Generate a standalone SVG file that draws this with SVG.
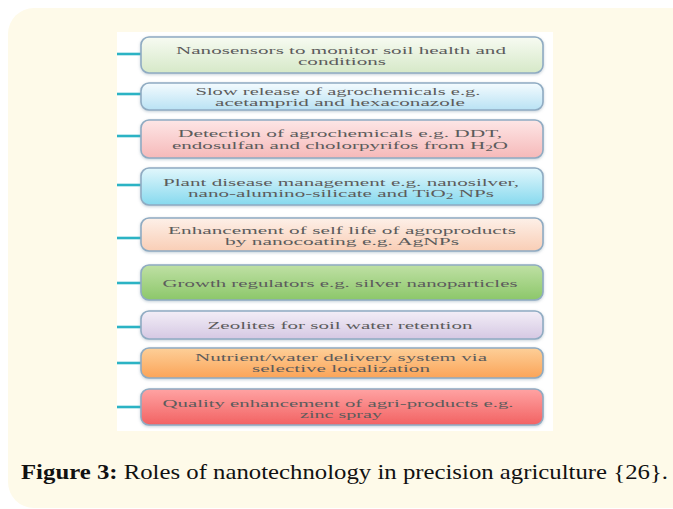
<svg xmlns="http://www.w3.org/2000/svg" width="673" height="509" viewBox="0 0 673 509">
  <style>
    .box { stroke: #8fabc2; stroke-width: 1.6; }
    .lbl { font-family: "Liberation Serif", "Times New Roman", serif; font-size: 11px; fill: #5c5c5c; text-anchor: middle; }
    .sm { font-size: 10px; }
    .link { stroke: #2bb3c4; stroke-width: 2.6; fill: none; }
    .cap { font-family: "Liberation Serif", "DejaVu Serif", serif; font-size: 22px; fill: #111; }
  </style>
  <defs>
    <filter id="soft" x="-5%" y="-20%" width="110%" height="140%">
      <feGaussianBlur in="SourceAlpha" stdDeviation="1.6"/>
      <feOffset dx="0" dy="1" result="b"/>
      <feFlood flood-color="#7d95a8" flood-opacity="0.45"/>
      <feComposite in2="b" operator="in"/>
      <feMerge><feMergeNode/><feMergeNode in="SourceGraphic"/></feMerge>
    </filter>
    <linearGradient id="g1" x1="0" y1="0" x2="0" y2="1"><stop offset="0" stop-color="#f7fbf2"/><stop offset="1" stop-color="#d6e9c8"/></linearGradient>
    <linearGradient id="g2" x1="0" y1="0" x2="0" y2="1"><stop offset="0" stop-color="#f4fbfe"/><stop offset="1" stop-color="#b9e2f4"/></linearGradient>
    <linearGradient id="g3" x1="0" y1="0" x2="0" y2="1"><stop offset="0" stop-color="#fde6e6"/><stop offset="1" stop-color="#f6b9b9"/></linearGradient>
    <linearGradient id="g4" x1="0" y1="0" x2="0" y2="1"><stop offset="0" stop-color="#e2f7fc"/><stop offset="1" stop-color="#86d9ee"/></linearGradient>
    <linearGradient id="g5" x1="0" y1="0" x2="0" y2="1"><stop offset="0" stop-color="#fdf0e8"/><stop offset="1" stop-color="#f9ceb6"/></linearGradient>
    <linearGradient id="g6" x1="0" y1="0" x2="0" y2="1"><stop offset="0" stop-color="#bfe0a4"/><stop offset="1" stop-color="#8cc76a"/></linearGradient>
    <linearGradient id="g7" x1="0" y1="0" x2="0" y2="1"><stop offset="0" stop-color="#f3eef7"/><stop offset="1" stop-color="#d5c8e3"/></linearGradient>
    <linearGradient id="g8" x1="0" y1="0" x2="0" y2="1"><stop offset="0" stop-color="#fdcf98"/><stop offset="1" stop-color="#fba458"/></linearGradient>
    <linearGradient id="g9" x1="0" y1="0" x2="0" y2="1"><stop offset="0" stop-color="#ffa3a3"/><stop offset="1" stop-color="#f26262"/></linearGradient>
  </defs>

  <!-- page panel -->
  <rect x="8" y="8" width="690" height="500" rx="26" fill="#fefae9"/>
  <!-- figure area -->
  <rect x="117" y="32" width="436" height="399" fill="#ffffff"/>

  <!-- connectors from the left rail to each box -->
  <g id="connectors">
    <line class="link" x1="117" y1="54" x2="142" y2="54"/>
    <line class="link" x1="117" y1="94" x2="142" y2="94"/>
    <line class="link" x1="117" y1="136" x2="142" y2="136"/>
    <line class="link" x1="117" y1="185" x2="142" y2="185"/>
    <line class="link" x1="117" y1="238" x2="142" y2="238"/>
    <line class="link" x1="117" y1="283" x2="142" y2="283"/>
    <line class="link" x1="117" y1="327" x2="142" y2="327"/>
    <line class="link" x1="117" y1="363" x2="142" y2="363"/>
    <line class="link" x1="117" y1="407" x2="142" y2="407"/>
  </g>

  <g id="nanosensors">
    <rect class="box" x="141" y="37" width="402" height="36" rx="8" fill="url(#g1)" filter="url(#soft)"/>
    <text class="lbl" x="341" y="54" textLength="330" lengthAdjust="spacingAndGlyphs">Nanosensors to monitor soil health and</text>
    <text class="lbl" x="342" y="65" textLength="88" lengthAdjust="spacingAndGlyphs">conditions</text>
  </g>
  <g id="slow-release">
    <rect class="box" x="141" y="83" width="402" height="27" rx="8" fill="url(#g2)" filter="url(#soft)"/>
    <text class="lbl" x="338" y="95" textLength="285" lengthAdjust="spacingAndGlyphs">Slow release of agrochemicals e.g.</text>
    <text class="lbl" x="340" y="106" textLength="250" lengthAdjust="spacingAndGlyphs">acetamprid and hexaconazole</text>
  </g>
  <g id="detection">
    <rect class="box" x="141" y="120" width="402" height="38" rx="8" fill="url(#g3)" filter="url(#soft)"/>
    <text class="lbl" x="340" y="137" textLength="324" lengthAdjust="spacingAndGlyphs">Detection of  agrochemicals e.g. DDT,</text>
    <text class="lbl" x="340" y="149" textLength="336" lengthAdjust="spacingAndGlyphs">endosulfan and cholorpyrifos from H<tspan font-size="8" dy="2">2</tspan><tspan dy="-2">O</tspan></text>
  </g>
  <g id="plant-disease">
    <rect class="box" x="141" y="168" width="402" height="37" rx="8" fill="url(#g4)" filter="url(#soft)"/>
    <text class="lbl" x="341" y="186" textLength="356" lengthAdjust="spacingAndGlyphs">Plant disease management e.g. nanosilver,</text>
    <text class="lbl" x="341" y="197" textLength="306" lengthAdjust="spacingAndGlyphs">nano-alumino-silicate and TiO<tspan font-size="8" dy="2">2</tspan><tspan dy="-2"> NPs</tspan></text>
  </g>
  <g id="shelf-life">
    <rect class="box" x="141" y="218" width="402" height="33" rx="8" fill="url(#g5)" filter="url(#soft)"/>
    <text class="lbl" x="342" y="234" textLength="348" lengthAdjust="spacingAndGlyphs">Enhancement of self life of agroproducts</text>
    <text class="lbl" x="342" y="245" textLength="234" lengthAdjust="spacingAndGlyphs">by nanocoating e.g. AgNPs</text>
  </g>
  <g id="growth-regulators">
    <rect class="box" x="141" y="265" width="402" height="35" rx="8" fill="url(#g6)" filter="url(#soft)"/>
    <text class="lbl" x="340" y="287" textLength="355" lengthAdjust="spacingAndGlyphs">Growth regulators e.g. silver nanoparticles</text>
  </g>
  <g id="zeolites">
    <rect class="box" x="141" y="311" width="402" height="28" rx="8" fill="url(#g7)" filter="url(#soft)"/>
    <text class="lbl" x="340" y="329" textLength="265" lengthAdjust="spacingAndGlyphs">Zeolites for soil water retention</text>
  </g>
  <g id="nutrient-delivery">
    <rect class="box" x="141" y="348" width="402" height="30" rx="8" fill="url(#g8)" filter="url(#soft)"/>
    <text class="lbl sm" x="341" y="361" textLength="292" lengthAdjust="spacingAndGlyphs">Nutrient/water delivery system via</text>
    <text class="lbl sm" x="341" y="372" textLength="178" lengthAdjust="spacingAndGlyphs">selective localization</text>
  </g>
  <g id="quality">
    <rect class="box" x="141" y="389" width="402" height="36" rx="8" fill="url(#g9)" filter="url(#soft)"/>
    <text class="lbl" x="338" y="407" textLength="351" lengthAdjust="spacingAndGlyphs">Quality enhancement of agri-products e.g.</text>
    <text class="lbl" x="341" y="418" textLength="82" lengthAdjust="spacingAndGlyphs">zinc spray</text>
  </g>

  <!-- caption -->
  <text class="cap" x="21" y="479" textLength="647" lengthAdjust="spacingAndGlyphs"><tspan font-weight="bold">Figure 3:</tspan> Roles of nanotechnology in precision agriculture {26}.</text>
</svg>
